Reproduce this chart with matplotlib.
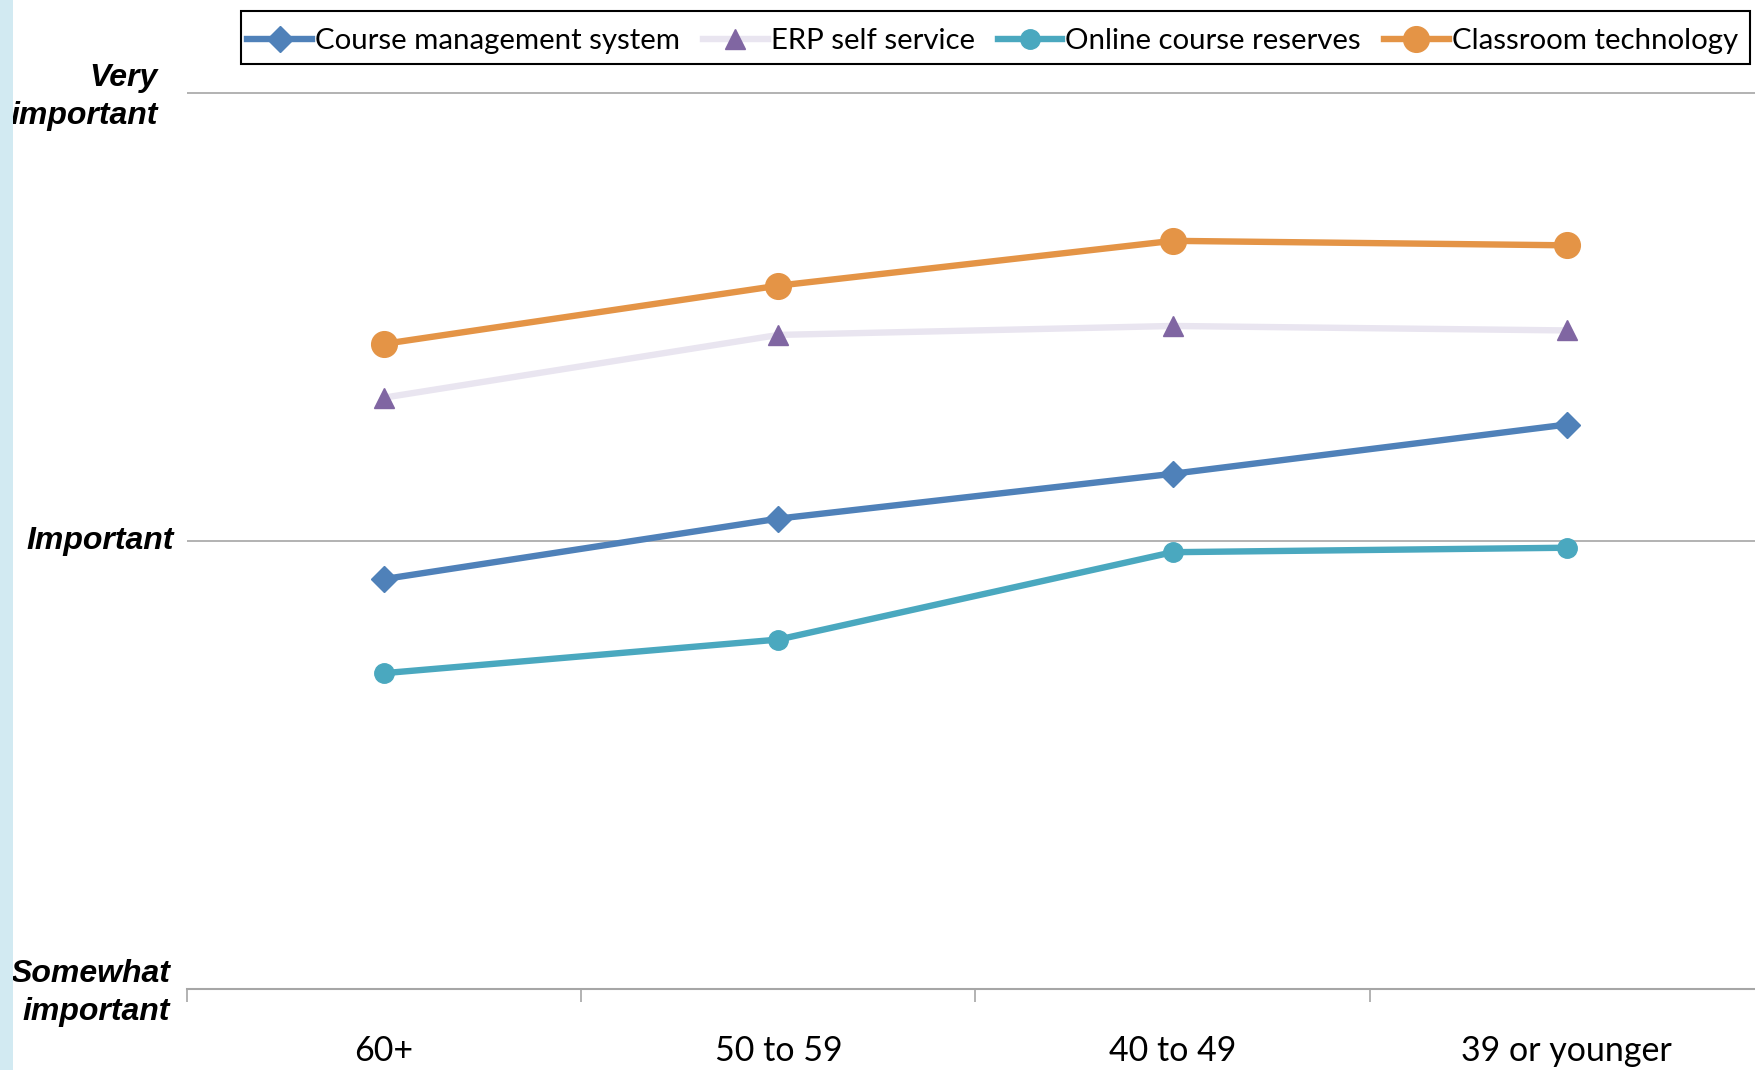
import matplotlib
matplotlib.use("Agg")
import matplotlib.pyplot as plt
from matplotlib.patches import Rectangle
from matplotlib.transforms import blended_transform_factory

# Age groups and mean importance ratings (2 = somewhat, 3 = important, 4 = very important)
age_groups = ["60+", "50 to 59", "40 to 49", "39 or younger"]
course_mgmt = [2.915, 3.05, 3.15, 3.26]
erp_self_service = [3.32, 3.46, 3.48, 3.47]
online_reserves = [2.705, 2.78, 2.975, 2.985]
classroom_tech = [3.44, 3.57, 3.67, 3.66]

scale_levels = [2, 3, 4]
scale_labels = ["Somewhat\nimportant", "Important", "Very\nimportant"]

W, H = 1756, 1070
fig = plt.figure(figsize=(W / 100, H / 100), dpi=100)

# thin light-blue strip on the left edge
fig.patches.append(Rectangle((0, 0), 13 / W, 1, transform=fig.transFigure,
                             facecolor="#d2eaf2", edgecolor="none", zorder=0))

ax_left, ax_right = 187, 1764
y_bot, y_top = 989, 93 - 0.05 * 448
ax = fig.add_axes([ax_left / W, 1 - y_bot / H, (ax_right - ax_left) / W, (y_bot - y_top) / H])

x = list(range(len(age_groups)))
lw = 4.6
ax.plot(x, course_mgmt, color="#4f81b9", lw=lw, marker="D", ms=13.5,
        label="Course management system", zorder=3)
ax.plot(x, erp_self_service, color="#e9e5f0", lw=lw, marker="^", ms=15,
        mfc="#8066a2", mec="#8066a2", label="ERP self service", zorder=3)
ax.plot(x, online_reserves, color="#4aa8bf", lw=lw, marker="o", ms=14,
        label="Online course reserves", zorder=3)
ax.plot(x, classroom_tech, color="#e49446", lw=lw, marker="o", ms=18.5,
        label="Classroom technology", zorder=3)

ax.set_xlim(-0.5, 3.5)
ax.set_ylim(2, 4.05)

for lvl in scale_levels[1:]:
    ax.axhline(lvl, color="#a6a6a6", lw=1.2, zorder=1)

for s in ["top", "right", "left"]:
    ax.spines[s].set_visible(False)
ax.spines["bottom"].set_color("#a6a6a6")
ax.spines["bottom"].set_linewidth(1.5)

ax.set_yticks([])
ax.set_xticks(x)
ax.set_xticklabels(age_groups, fontsize=24.5, family="Lato")
ax.tick_params(axis="x", which="major", length=0, pad=33)
ax.set_xticks([-0.5, 0.5, 1.5, 2.5, 3.5], minor=True)
ax.tick_params(axis="x", which="minor", length=9, width=1.2, color="#a6a6a6", direction="out")

# scale labels at the left of the plot
tr = blended_transform_factory(fig.transFigure, ax.transData)
label_right = {2: 170, 3: 174, 4: 158}
label_offset = {2: -0.008, 3: 0.0, 4: -0.008}
for lvl, lab in zip(scale_levels, scale_labels):
    ax.text(label_right[lvl] / W, lvl + label_offset[lvl], lab, transform=tr,
            ha="right", va="center", multialignment="right", fontsize=23,
            fontweight="bold", fontstyle="italic", family="Liberation Sans",
            linespacing=1.35, clip_on=False)

# legend entries without their own frame; the box is drawn separately
leg = fig.legend(loc="upper right", bbox_to_anchor=(1751 / W, 1 - 15 / H), ncol=4,
                 prop={"family": "Lato", "size": 21.2}, frameon=False,
                 handlelength=2.2, handletextpad=0.1,
                 columnspacing=0.78, borderpad=0.45, borderaxespad=0)
box_x0, box_x1, box_y0, box_y1 = 241, 1750, 11, 64
fig.patches.append(Rectangle((box_x0 / W, 1 - box_y1 / H), (box_x1 - box_x0) / W,
                             (box_y1 - box_y0) / H, transform=fig.transFigure,
                             facecolor="white", edgecolor="black", lw=1.5, zorder=1))

fig.savefig("out.png", dpi=100)
